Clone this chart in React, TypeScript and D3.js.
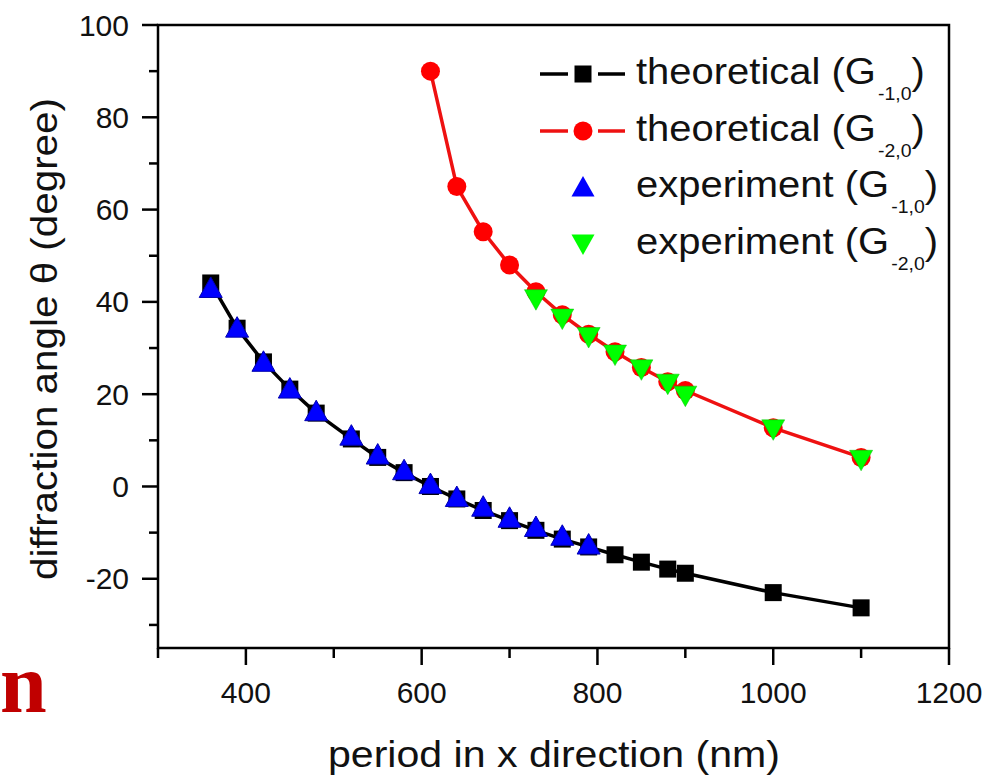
import React from 'react';
import * as d3 from 'd3';

// ---- data ----
const periodTheo1 = [360, 390, 420, 450, 480, 520, 550, 580, 610, 640, 670, 700, 730, 760, 790, 820, 850, 880, 900, 1000, 1100];
const angleTheo1 = [44.1, 34.3, 27.0, 21.1, 15.9, 10.3, 6.3, 3.0, 0.0, -2.7, -5.2, -7.4, -9.5, -11.4, -13.1, -14.8, -16.4, -17.9, -18.8, -23.0, -26.3];

const periodTheo2 = [610, 640, 670, 700, 730, 760, 790, 820, 850, 880, 900, 1000, 1100];
const angleTheo2 = [90, 65, 55.2, 48, 42.2, 37.2, 33, 29.2, 25.8, 22.7, 20.8, 12.7, 6.3];

const periodExp1 = [360, 390, 420, 450, 480, 520, 550, 580, 610, 640, 670, 700, 730, 760, 790];
const angleExp1 = [42.8, 34.2, 26.8, 21.0, 16.1, 10.8, 6.7, 3.3, 0.3, -2.5, -4.6, -7.0, -9.0, -10.9, -12.8];

const periodExp2 = [730, 760, 790, 820, 850, 880, 900, 1000, 1100];
const angleExp2 = [40.8, 36.6, 32.6, 28.8, 25.6, 22.5, 19.9, 12.6, 6.0];

const xTickLabels = [400, 600, 800, 1000, 1200];
const yTickLabels = [-20, 0, 20, 40, 60, 80, 100];

const legendLabels = ['theoretical (G', 'theoretical (G', 'experiment (G', 'experiment (G'];
const legendSubs = ['-1,0', '-2,0', '-1,0', '-2,0'];

const W = 990, H = 776;
const L = 158, R = 949, T = 25, B = 648;
const FONT = 'Liberation Sans, Arial, Helvetica, sans-serif';

const triUp = 'M0,-12 L11.5,8.5 L-11.5,8.5 Z';
const triDown = 'M0,12 L11.5,-8.5 L-11.5,-8.5 Z';

export default function App() {
  const x = d3.scaleLinear().domain([300, 1200]).range([L, R]);
  const y = d3.scaleLinear().domain([-35, 100]).range([B, T]);
  const line = d3.line<[number, number]>().x(d => x(d[0])).y(d => y(d[1]));

  const t1: [number, number][] = periodTheo1.map((p, i) => [p, angleTheo1[i]]);
  const t2: [number, number][] = periodTheo2.map((p, i) => [p, angleTheo2[i]]);
  const e1: [number, number][] = periodExp1.map((p, i) => [p, angleExp1[i]]);
  const e2: [number, number][] = periodExp2.map((p, i) => [p, angleExp2[i]]);

  const xMinor = d3.range(300, 1201, 100).filter(v => !xTickLabels.includes(v));
  const yMinor = d3.range(-30, 101, 10).filter(v => !yTickLabels.includes(v));

  const legX = 636;
  const legBase = [84, 141, 197, 254];

  return (
    <svg width={W} height={H} style={{ position: 'absolute', left: 0, top: 0, background: '#fff' }}>
      <rect x={0} y={0} width={W} height={H} fill="#fff" />

      {/* frame */}
      <rect x={L} y={T} width={R - L} height={B - T} fill="none" stroke="#000" strokeWidth={2.5} />

      {/* x ticks */}
      {xTickLabels.map(v => (
        <g key={'xt' + v}>
          <line x1={x(v)} x2={x(v)} y1={B} y2={B + 17} stroke="#000" strokeWidth={2.5} />
          <text x={x(v)} y={703} textAnchor="middle" fontFamily={FONT} fontSize={30} fill="#111">{v}</text>
        </g>
      ))}
      {xMinor.map(v => (
        <line key={'xm' + v} x1={x(v)} x2={x(v)} y1={B} y2={B + 10} stroke="#000" strokeWidth={2.5} />
      ))}

      {/* y ticks */}
      {yTickLabels.map(v => (
        <g key={'yt' + v}>
          <line x1={L - 16} x2={L} y1={y(v)} y2={y(v)} stroke="#000" strokeWidth={2.5} />
          <text x={129} y={y(v) + 10.5} textAnchor="end" fontFamily={FONT} fontSize={30} fill="#111">{v}</text>
        </g>
      ))}
      {yMinor.map(v => (
        <line key={'ym' + v} x1={L - 9} x2={L} y1={y(v)} y2={y(v)} stroke="#000" strokeWidth={2.5} />
      ))}

      {/* axis titles */}
      <text x={554} y={767} textAnchor="middle" fontFamily={FONT} fontSize={37} fill="#111"
        textLength={452} lengthAdjust="spacingAndGlyphs">period in x direction (nm)</text>
      <text transform={`translate(57,339) rotate(-90)`} textAnchor="middle" fontFamily={FONT} fontSize={37} fill="#111"
        textLength={482} lengthAdjust="spacingAndGlyphs">diffraction angle θ (degree)</text>

      {/* theoretical G-1,0 */}
      <path d={line(t1) || ''} fill="none" stroke="#000" strokeWidth={3.5} />
      {t1.map((d, i) => (
        <rect key={'s' + i} x={x(d[0]) - 8.5} y={y(d[1]) - 8.5} width={17} height={17} fill="#000" />
      ))}

      {/* theoretical G-2,0 */}
      <path d={line(t2) || ''} fill="none" stroke="#ee1111" strokeWidth={3.5} />
      {t2.map((d, i) => (
        <circle key={'c' + i} cx={x(d[0])} cy={y(d[1])} r={9.5} fill="#ff0000" />
      ))}

      {/* experiment G-1,0 */}
      {e1.map((d, i) => (
        <path key={'u' + i} d={triUp} transform={`translate(${x(d[0])},${y(d[1])})`} fill="#0000ff" stroke="#0000b0" strokeWidth={1} />
      ))}

      {/* experiment G-2,0 */}
      {e2.map((d, i) => (
        <path key={'v' + i} d={triDown} transform={`translate(${x(d[0])},${y(d[1])})`} fill="#00ff00" stroke="#00c000" strokeWidth={0.5} />
      ))}

      {/* legend */}
      <g>
        <line x1={540} x2={568} y1={legBase[0] - 10} y2={legBase[0] - 10} stroke="#000" strokeWidth={3.5} />
        <line x1={598} x2={625} y1={legBase[0] - 10} y2={legBase[0] - 10} stroke="#000" strokeWidth={3.5} />
        <rect x={583 - 8.5} y={legBase[0] - 18.5} width={17} height={17} fill="#000" />

        <line x1={540} x2={568} y1={legBase[1] - 10} y2={legBase[1] - 10} stroke="#ee1111" strokeWidth={3.5} />
        <line x1={598} x2={625} y1={legBase[1] - 10} y2={legBase[1] - 10} stroke="#ee1111" strokeWidth={3.5} />
        <circle cx={583} cy={legBase[1] - 10} r={9.5} fill="#ff0000" />

        <path d={triUp} transform={`translate(583,${legBase[2] - 9})`} fill="#0000ff" />
        <path d={triDown} transform={`translate(583,${legBase[3] - 11})`} fill="#00ff00" />

        {legendLabels.map((lab, i) => (
          <text key={'lg' + i} transform={`translate(${legX},${legBase[i]}) scale(1.08,1)`} fontFamily={FONT} fontSize={37} fill="#111">
            <tspan>{lab}</tspan>
            <tspan dx={2} dy={16} fontSize={18}>{legendSubs[i]}</tspan>
            <tspan dx={0} dy={-16}>)</tspan>
          </text>
        ))}
      </g>

      {/* cropped heading fragment */}
      <text x={0} y={712} fontFamily="Liberation Serif, Times New Roman, serif" fontWeight="bold" fontSize={84} fill="#c00000">n</text>
    </svg>
  );
}
